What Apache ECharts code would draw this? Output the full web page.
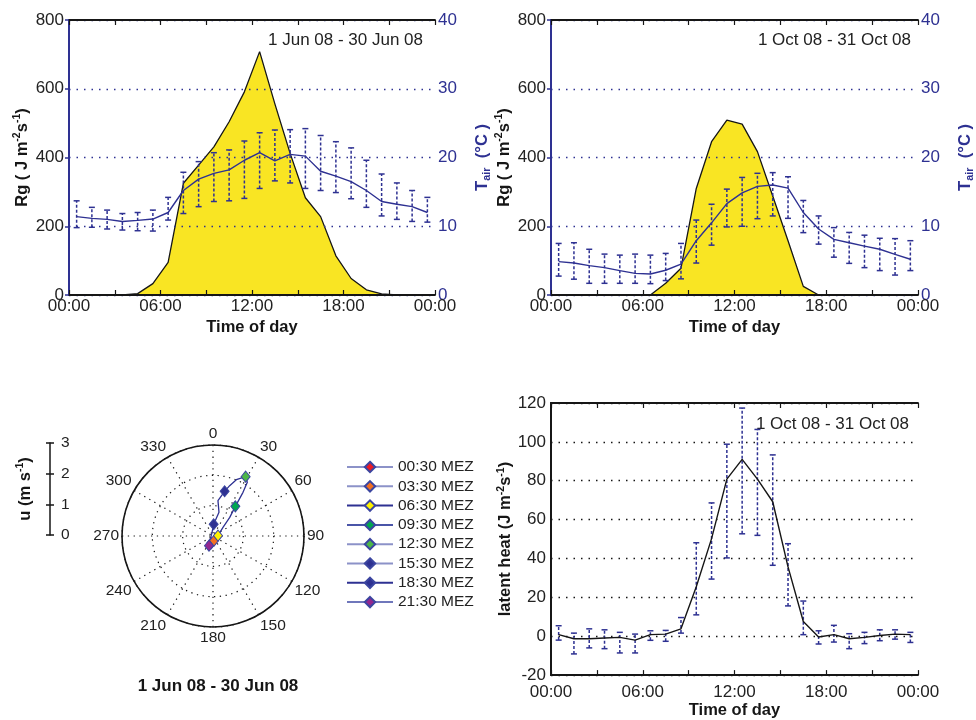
<!DOCTYPE html>
<html><head><meta charset="utf-8">
<script src="https://cdn.jsdelivr.net/npm/echarts@6/dist/echarts.min.js"></script>
<style>html,body{margin:0;padding:0;background:#fff}#c{width:976px;height:720px}</style>
</head><body><div id="c"></div>
<script>
// ---------- data ----------
const hours = [0.5,1.5,2.5,3.5,4.5,5.5,6.5,7.5,8.5,9.5,10.5,11.5,12.5,13.5,14.5,15.5,16.5,17.5,18.5,19.5,20.5,21.5,22.5,23.5];
const timeTickLabels = ['00:00','06:00','12:00','18:00','00:00'];

// June: global radiation Rg and air temperature
const rgJun   = [0,0,0,0,4,33,95,325,378,431,504,591,708,556,412,283,228,114,48,15,3,0,0,0];
const tJun    = [11.4,11.15,11.0,10.7,10.85,11.05,12.0,15.2,16.85,17.7,18.2,19.6,20.7,19.5,20.45,20.2,18.0,17.3,16.5,15.2,13.6,13.2,12.85,12.0];
const tJunHi  = [13.7,12.75,12.35,11.85,12.0,12.35,14.2,17.85,19.4,20.7,21.1,22.4,23.6,24.0,24.05,24.2,23.2,22.3,21.4,19.6,17.6,16.3,15.2,14.2];
const tJunLo  = [9.8,9.85,9.6,9.45,9.35,9.3,10.9,11.85,12.85,13.6,13.7,14.05,15.5,16.6,16.3,15.5,15.2,14.9,14.0,12.75,11.5,11.0,10.7,10.6];

// October: global radiation Rg and air temperature
const rgOct   = [0,0,0,0,0,0,0,34,78,310,446,509,497,417,288,158,25,0,0,0,0,0,0,0];
const tOct    = [4.85,4.65,4.27,3.98,3.55,3.15,3.05,3.6,4.5,7.9,10.5,13.3,14.85,15.8,16.0,15.55,12.0,9.6,8.1,7.6,7.1,6.65,5.9,5.2];
const tOctHi  = [7.5,7.6,6.65,5.95,5.8,5.95,5.8,6.05,7.5,10.9,13.2,15.4,17.1,17.7,17.8,17.2,13.75,11.5,9.8,9.1,8.7,8.25,8.2,7.9];
const tOctLo  = [2.75,2.3,1.7,1.7,1.7,1.7,1.65,2.1,2.35,4.65,7.25,9.9,10.0,11.1,11.5,11.15,9.07,7.4,5.5,4.6,3.98,3.55,2.9,3.55];

// October: latent heat
const leOct   = [0.8,-1.3,-1.3,-0.9,-0.6,-2.0,0.8,1.1,3.8,25.5,50.2,80.8,91.0,80.8,69.2,35.7,7.6,-0.4,0.8,-1.3,-0.6,0.4,1.1,0.8];
const leOctHi = [5.4,1.6,3.8,3.3,2.0,1.1,2.8,3.0,9.6,48.1,68.6,98.8,117.4,106.4,93.3,47.6,18.1,2.8,5.6,1.3,2.0,3.3,3.3,2.0];
const leOctLo = [-2.0,-9.1,-6.0,-6.4,-8.6,-8.6,-2.1,-2.6,1.6,11.0,29.4,40.3,52.7,51.9,36.5,15.6,0.8,-4.0,-3.0,-6.4,-3.8,-2.3,-1.5,-3.2];

// June: mean wind (speed m/s, direction deg) per hour
const windSpeed = [0.24,0.19,0.165,0.157,0.125,0.129,0.165,0.436,0.825,1.224,1.746,2.10,2.233,2.01,1.748,1.522,1.177,0.805,0.385,0.125,0.183,0.345,0.316,0.275];
const windDir   = [193,190,180,168,142,110,86,49,42,37,34.5,32.6,28.8,22.5,18.3,14.6,8,14.2,3.3,345,213,202.5,200,196];
const markerNames = ['00:30 MEZ','03:30 MEZ','06:30 MEZ','09:30 MEZ','12:30 MEZ','15:30 MEZ','18:30 MEZ','21:30 MEZ'];
const markerHourIndex = [0,3,6,9,12,15,18,21];
const markerColors = ['#ed1c24','#f37021','#fff200','#00a651','#4cb648','#2e3192','#2e3192','#93278f'];
const legendLineColors = ['#8c92c8','#8c92c8','#2e3192','#4a55a8','#8c92c8','#8c92c8','#2e3192','#6f77bb'];

// ---------- styling ----------
const FONT = '"Liberation Sans", Arial, Helvetica, sans-serif';
const BLUE = '#2e3192';
const YELLOW = '#f9e523';
const INK = '#161616';

function pairs(xs, ys){ return xs.map((x,i)=>[x, ys[i]]); }
function triples(xs, lo, hi){ return xs.map((x,i)=>[x, lo[i], hi[i]]); }

function errBar(color, cap){
  return function(params, api){
    const x = api.value(0);
    const a = api.coord([x, api.value(1)]);
    const b = api.coord([x, api.value(2)]);
    const st = {stroke: color, lineWidth: 1.5};
    return {type:'group', children:[
      {type:'line', shape:{x1:a[0],y1:a[1],x2:b[0],y2:b[1]}, style:{stroke:color, lineWidth:1.5, lineDash:[3,2]}},
      {type:'line', shape:{x1:a[0]-cap,y1:a[1],x2:a[0]+cap,y2:a[1]}, style:st},
      {type:'line', shape:{x1:b[0]-cap,y1:b[1],x2:b[0]+cap,y2:b[1]}, style:st}
    ]};
  };
}

function xAx(gi, pos, showLabels, margin){
  return {
    type:'value', gridIndex:gi, position:pos, min:0, max:24, interval:3,
    axisLine:{show:true, onZero:false, lineStyle:{color:INK, width:1.8}},
    axisTick:{show:true, inside:true, length:5, lineStyle:{color:INK, width:1.2}},
    axisLabel:{show:showLabels, color:'#222', fontSize:17, fontFamily:FONT, margin:margin,
      formatter: v => (v % 6 === 0 ? timeTickLabels[v/6] : '')},
    splitLine:{show:false},
    name: showLabels ? 'Time of day' : '', nameLocation:'middle', nameGap: 24,
    nameTextStyle:{fontWeight:'bold', fontSize:16.5, color:INK, fontFamily:FONT},
    z: 3
  };
}

const richBold = (color) => ({
  b:{fontWeight:'bold', fontSize:16.5, color:color, fontFamily:FONT, lineHeight:20},
  sup:{fontWeight:'bold', fontSize:10.5, color:color, fontFamily:FONT, verticalAlign:'top', lineHeight:20},
  sub:{fontWeight:'bold', fontSize:11, color:color, fontFamily:FONT, verticalAlign:'bottom', lineHeight:20}
});

function rgAxis(gi){
  return {
    type:'value', gridIndex:gi, position:'left', min:0, max:800, interval:200,
    axisLine:{show:true, lineStyle:{color:INK, width:1.8}},
    axisTick:{show:false},
    axisLabel:{color:'#222', fontSize:17, fontFamily:FONT, margin:5},
    splitLine:{show:true, lineStyle:{color:BLUE, width:1.3, type:[1.5,6]}},
    name:'{b|Rg ( J m}{sup|-2}{b|s}{sup|-1}{b|)}', nameLocation:'middle', nameRotate:90, nameGap:37,
    nameTextStyle:{rich: richBold(INK)},
    z: 2
  };
}
function tAxis(gi){
  return {
    type:'value', gridIndex:gi, position:'right', min:0, max:40, interval:10,
    axisLine:{show:true, lineStyle:{color:BLUE, width:2}},
    axisTick:{show:true, inside:true, length:4, lineStyle:{color:BLUE, width:1.5}},
    axisLabel:{color:BLUE, fontSize:17, fontFamily:FONT, margin:3},
    splitLine:{show:false},
    name:'{b|T}{sub|air}{b|  (°C )}', nameLocation:'middle', nameRotate:90, nameGap:37,
    nameTextStyle:{rich: richBold(BLUE)},
    z: 3
  };
}

const option = {
  animation:false,
  textStyle:{fontFamily:FONT},
  grid:[
    {left:69, top:20, width:366, height:275},
    {left:551, top:20, width:367, height:275},
    {left:551, top:403, width:367, height:274},
    {left:50, top:443, width:20, height:92}
  ],
  xAxis:[
    xAx(0,'bottom',true,3), xAx(0,'top',false,3),
    xAx(1,'bottom',true,3), xAx(1,'top',false,3),
    xAx(2,'bottom',true,9), xAx(2,'top',false,9),
    {type:'value', gridIndex:3, show:false, min:0, max:1}
  ],
  yAxis:[
    rgAxis(0), tAxis(0), rgAxis(1), tAxis(1),
    {type:'value', gridIndex:2, position:'left', min:-20, max:120, interval:20,
     axisLine:{show:true, lineStyle:{color:INK, width:1.8}},
     axisTick:{show:false},
     axisLabel:{color:'#222', fontSize:17, fontFamily:FONT, margin:5},
     splitLine:{show:true, lineStyle:{color:INK, width:1.3, type:[1.5,6]}},
     name:'{b|latent heat (J m}{sup|-2}{b|s}{sup|-1}{b|)}', nameLocation:'middle', nameRotate:90, nameGap:34,
     nameTextStyle:{rich: richBold(INK)}, z:2},
    {type:'value', gridIndex:2, position:'right', min:-20, max:120, interval:20,
     axisLine:{show:true, lineStyle:{color:INK, width:1.8}},
     axisTick:{show:false}, axisLabel:{show:false}, splitLine:{show:false}, z:3},
    {type:'value', gridIndex:3, position:'left', min:0, max:3, interval:1,
     axisLine:{show:true, lineStyle:{color:INK, width:1.5}},
     axisTick:{show:true, inside:false, length:4, lineStyle:{color:INK, width:1.5}},
     axisLabel:{inside:true, margin:11, color:'#222', fontSize:15.5, fontFamily:FONT},
     splitLine:{show:false},
     name:'{b|u (m s}{sup|-1}{b|)}', nameLocation:'middle', nameRotate:90, nameGap:15,
     nameTextStyle:{rich: richBold(INK)}},
    {type:'value', gridIndex:3, position:'left', min:0, max:3, interval:1,
     axisLine:{show:false},
     axisTick:{show:true, inside:true, length:4, lineStyle:{color:INK, width:1.5}},
     axisLabel:{show:false}, splitLine:{show:false}}
  ],
  polar:{center:[213,536], radius:91},
  angleAxis:{
    type:'value', min:0, max:360, interval:30, startAngle:90, clockwise:true,
    axisLine:{show:true, lineStyle:{color:INK, width:1.6}},
    axisTick:{show:false},
    axisLabel:{color:'#222', fontSize:15.5, fontFamily:FONT, margin:3, formatter: v => (v === 360 ? '' : String(v))},
    splitLine:{show:true, lineStyle:{color:INK, width:1.2, type:[1.3,4.5]}}
  },
  radiusAxis:{
    type:'value', min:0, max:3, interval:1,
    axisLine:{show:false}, axisTick:{show:false}, axisLabel:{show:false},
    splitLine:{show:true, lineStyle:{color:INK, width:1.2, type:[1.3,4.5]}}
  },
  legend:{
    data: markerNames, orient:'vertical', left:346, top:459, padding:0,
    itemWidth:46, itemHeight:13, itemGap:3.3, selectedMode:false,
    textStyle:{fontSize:15.5, color:'#222', fontFamily:FONT}
  },
  graphic:[
    {type:'text', x:423, y:40, style:{text:'1 Jun 08 - 30 Jun 08', fontSize:17, fontFamily:FONT, fill:'#222', align:'right', verticalAlign:'middle'}},
    {type:'text', x:911, y:40, style:{text:'1 Oct 08 - 31 Oct 08', fontSize:17, fontFamily:FONT, fill:'#222', align:'right', verticalAlign:'middle'}},
    {type:'text', x:909, y:424, style:{text:'1 Oct 08 - 31 Oct 08', fontSize:17, fontFamily:FONT, fill:'#222', align:'right', verticalAlign:'middle'}},
    {type:'text', x:218, y:686, style:{text:'1 Jun 08 - 30 Jun 08', fontSize:17, fontWeight:'bold', fontFamily:FONT, fill:INK, align:'center', verticalAlign:'middle'}}
  ],
  series:[
    {type:'line', name:'Rg Jun', xAxisIndex:0, yAxisIndex:0, data:pairs(hours, rgJun), symbol:'none',
     lineStyle:{color:INK, width:1.3}, areaStyle:{color:YELLOW, opacity:1}, z:1, silent:true},
    {type:'custom', name:'T Jun err', xAxisIndex:0, yAxisIndex:1, data:triples(hours, tJunLo, tJunHi),
     renderItem: errBar(BLUE, 3), encode:{x:0, y:[1,2]}, z:4, silent:true},
    {type:'line', name:'T Jun', xAxisIndex:0, yAxisIndex:1, data:pairs(hours, tJun), symbol:'none',
     lineStyle:{color:BLUE, width:1.4}, z:5, silent:true},

    {type:'line', name:'Rg Oct', xAxisIndex:2, yAxisIndex:2, data:pairs(hours, rgOct), symbol:'none',
     lineStyle:{color:INK, width:1.3}, areaStyle:{color:YELLOW, opacity:1}, z:1, silent:true},
    {type:'custom', name:'T Oct err', xAxisIndex:2, yAxisIndex:3, data:triples(hours, tOctLo, tOctHi),
     renderItem: errBar(BLUE, 3), encode:{x:0, y:[1,2]}, z:4, silent:true},
    {type:'line', name:'T Oct', xAxisIndex:2, yAxisIndex:3, data:pairs(hours, tOct), symbol:'none',
     lineStyle:{color:BLUE, width:1.4}, z:5, silent:true},

    {type:'custom', name:'LE err', xAxisIndex:4, yAxisIndex:4, data:triples(hours, leOctLo, leOctHi),
     renderItem: errBar(BLUE, 3), encode:{x:0, y:[1,2]}, z:4, silent:true},
    {type:'line', name:'LE', xAxisIndex:4, yAxisIndex:4, data:pairs(hours, leOct), symbol:'none',
     lineStyle:{color:INK, width:1.4}, z:5, silent:true},

    {type:'line', name:'wind path', coordinateSystem:'polar', polarIndex:0,
     data: windSpeed.map((r,i)=>[r, windDir[i]]), symbol:'none',
     lineStyle:{color:BLUE, width:1.3}, z:3, silent:true}
  ].concat(markerNames.map((nm, k) => ({
    type:'line', name:nm, coordinateSystem:'polar', polarIndex:0,
    data:[[windSpeed[markerHourIndex[k]], windDir[markerHourIndex[k]]]],
    symbol:'diamond', symbolSize:[9,11], showSymbol:true,
    itemStyle:{color:markerColors[k], borderColor:'#3b45a0', borderWidth:1},
    lineStyle:{color:legendLineColors[k], width:1.6},
    z:6, silent:true
  })))
};

const chart = echarts.init(document.getElementById('c'), null, {renderer:'canvas'});
chart.setOption(option);
</script></body></html>
